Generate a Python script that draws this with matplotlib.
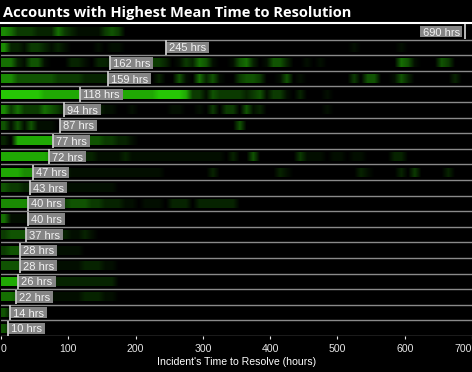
import numpy as np
import matplotlib
matplotlib.use("Agg")
import matplotlib.pyplot as plt
from matplotlib.patches import Rectangle

# Data
title = "Accounts with Highest Mean Time to Resolution"
mean_hrs = [690, 245, 162, 159, 118, 94, 87, 77, 72, 47,
            43, 40, 40, 37, 28, 28, 26, 22, 14, 10]
xticks = [0, 100, 200, 300, 400, 500, 600, 700]

# incident density per 10-hour bin, 0 (none) .. 8 (most), one string per account
density = [
    "6533322253" "2111134300" "0000000000" "0000000000" "0000000000" "0000000000" "0000000000",
    "6221332121" "0000101100" "0000000000" "0000000000" "0000000000" "0010000001" "0000000000",
    "5521441000" "2210221111" "0133201325" "4100145201" "4420010100" "0000000005" "4100043000",
    "6644444433" "3322221111" "1102004105" "2410034430" "0140100000" "0030440014" "2000000200",
    "8888887777" "7777777777" "7778888733" "1433332341" "3310200010" "0000000000" "0000000000",
    "6353335431" "2222211001" "0000011001" "0303304120" "0000000010" "0000000000" "0000000000",
    "4141411100" "0000000000" "0000000000" "0000040000" "0000000000" "0000000000" "0000000000",
    "2077777766" "6644433221" "0000000000" "0000000000" "0000000000" "0000000000" "0000000000",
    "7777777666" "6622111121" "1111111111" "1110200400" "0000311101" "1011000022" "0000000000",
    "7776644332" "1111111111" "1111000000" "0200000000" "0210000000" "0002100002" "0300002000",
    "4332211111" "1111111000" "0000000000" "0000000000" "0000000000" "0000000000" "0000000000",
    "6666554443" "4443322211" "0111022202" "2222200000" "0000000000" "0000000000" "0000000000",
    "5111000000" "0000000000" "0000000000" "0000000000" "0000000000" "0000000000" "0000000000",
    "3444221112" "1121000000" "0000000000" "0000000000" "0000000000" "0000000000" "0000000000",
    "3441111111" "1100000000" "0000000000" "0000000000" "0000000000" "0000000000" "0000000000",
    "4443222111" "1122211000" "0000000000" "0000000000" "0000000000" "0000000000" "0000000000",
    "7774433222" "2222222000" "0000000000" "0000000000" "0000000000" "0000000000" "0000000000",
    "5542211111" "1122211000" "0000000000" "0000000000" "0000000000" "0000000000" "0000000000",
    "4100000000" "0000000000" "0000000000" "0000000000" "0000000000" "0000000000" "0000000000",
    "4100000000" "0000000000" "0000000000" "0000000000" "0000000000" "0000000000" "0000000000",
]

levels = np.array([[int(c) for c in s] for s in density], dtype=float)
green = np.array([0.15, 0.78, 0.02])
n = len(mean_hrs)

plt.rcParams["font.family"] = ["Liberation Sans", "DejaVu Sans"]

fig = plt.figure(figsize=(4.72, 3.72), dpi=100, facecolor="black")
ax = fig.add_axes([1 / 472, 36 / 372, 471 / 472, 312 / 372], facecolor="black")

# heat strips (slightly darker response for the faint bins)
for i, row in enumerate(levels):
    rgb = np.clip((row[:, None] / 8.0) ** 1.25 * green, 0, 1)
    ax.imshow(rgb[None], extent=[0, 700, i + 0.78, i + 0.22], aspect="auto",
              interpolation="bilinear", zorder=1)

# row separators
for i in range(1, n + 1):
    ax.axhline(i, color="#8a8a8a", lw=1.0, zorder=2)

ax.set_xlim(0, 700)
ax.set_ylim(n, 0)
ax.set_yticks([])
ax.set_xticks(xticks)
ax.set_xticklabels([str(v) for v in xticks])
for s in ax.spines.values():
    s.set_visible(False)
ax.tick_params(axis="x", colors="#e6e6e6", labelsize=7.6, length=2.5, width=0.8, pad=3.5)
labs = ax.get_xticklabels()
labs[0].set_ha("left")
labs[-1].set_ha("right")
ax.set_xlabel("Incident's Time to Resolve (hours)", color="white", fontsize=7.6, labelpad=2)

# title and underline
fig.text(0.006, 1 - 16.7 / 372, title, color="white", fontsize=10.5, fontweight="bold",
         family="Open Sans", va="baseline", ha="left")
fig.add_artist(plt.Line2D([0, 1], [1 - 23 / 372, 1 - 23 / 372], color="white", lw=1.5))

# mean markers with labels
fig.canvas.draw()
r = fig.canvas.get_renderer()
inv = ax.transData.inverted()
px = 700 / ax.get_window_extent().width
for i, m in enumerate(mean_hrs):
    ax.plot([m, m], [i + 0.03, i + 0.97], color="#c8c8c8", lw=1.3, zorder=6, solid_capstyle="butt")
    label = f"{m} hrs"
    left_side = m > 600
    if left_side:
        t = ax.text(m - 5 * px, i + 0.5, label, ha="right", va="center_baseline",
                    fontsize=8, color="#f2f2f2", zorder=7)
    else:
        t = ax.text(m + 3 * px, i + 0.5, label, ha="left", va="center_baseline",
                    fontsize=8, color="#f2f2f2", zorder=7)
    bb = t.get_window_extent(r)
    x0 = inv.transform((bb.x0, bb.y0))[0]
    x1 = inv.transform((bb.x1, bb.y0))[0]
    if left_side:
        rx0, rx1 = x0 - 3 * px, m - 3 * px
    else:
        rx0, rx1 = m, x1 + 3 * px
    ax.add_patch(Rectangle((rx0, i + 0.5 - 0.36), rx1 - rx0, 0.72,
                           facecolor="#858585", edgecolor="none", zorder=5))

fig.savefig("out.png", dpi=100, facecolor="black")
